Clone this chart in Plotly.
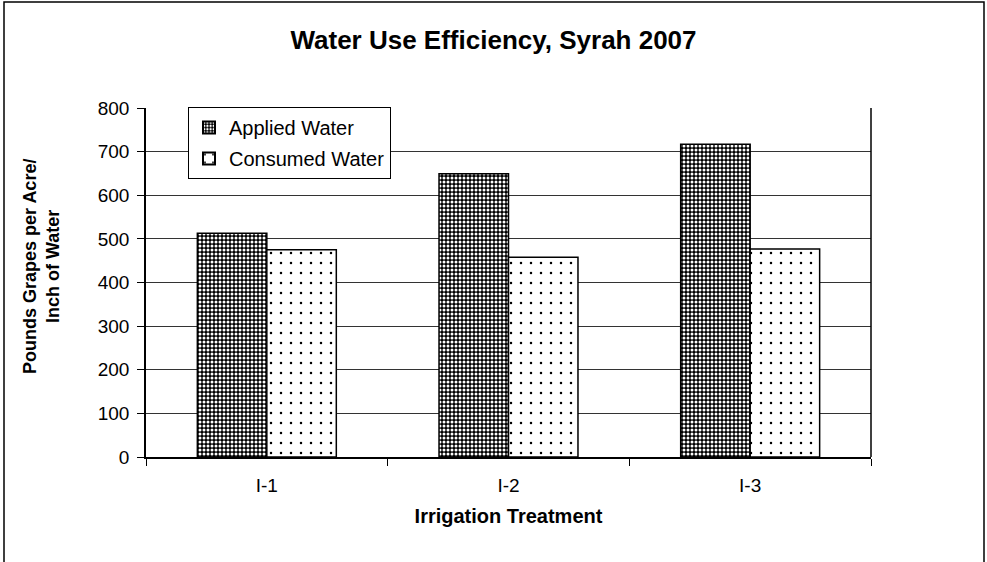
import plotly.graph_objects as go

categories = ["I-1", "I-2", "I-3"]
applied = [513, 649, 717]
consumed = [475, 458, 477]
series_names = ["Applied Water", "Consumed Water"]

W, H = 987, 562
L, R, T, B = 146, 116, 108, 105
pw, ph = W - L - R, H - T - B

fig = go.Figure()
fig.add_trace(go.Bar(
    x=categories, y=applied, name=series_names[0], legendgroup="a",
    marker=dict(color="white", line=dict(color="black", width=1.5),
                pattern=dict(shape=".", bgcolor="black", fgcolor="white",
                             size=4, solidity=0.45, fillmode="replace")),
))
fig.add_trace(go.Bar(
    x=categories, y=consumed, name=series_names[1], legendgroup="b",
    marker=dict(color="white", line=dict(color="black", width=1.5),
                pattern=dict(shape=".", bgcolor="white", fgcolor="black",
                             size=10, solidity=0.05, fillmode="replace")),
))

font = "Arial, Liberation Sans, sans-serif"
fig.update_layout(
    width=W, height=H,
    margin=dict(l=L, r=R, t=T, b=B, pad=0),
    paper_bgcolor="white", plot_bgcolor="white",
    barmode="group", bargap=0.425, bargroupgap=0,
    font=dict(family=font, size=19, color="black"),
    title=dict(text="<b>Water Use Efficiency, Syrah 2007</b>", x=0.5, xanchor="center",
               y=1 - 40 / H, yanchor="middle", font=dict(size=26)),
    showlegend=True,
    legend=dict(x=(188 - L) / pw, y=1 + (T - 107) / ph, xanchor="left", yanchor="top",
                bgcolor="white", bordercolor="black", borderwidth=1,
                font=dict(size=20), tracegroupgap=2, itemsizing="constant",
                itemwidth=30),
    xaxis=dict(showline=True, linecolor="black", linewidth=1.5, ticks="outside",
               tickson="boundaries", ticklen=7, tickcolor="black",
               ticklabelstandoff=10,
               title=dict(text="<b>Irrigation Treatment</b>", font=dict(size=20), standoff=14),
               mirror=False),
    yaxis=dict(range=[0, 800], dtick=100, showline=True, linecolor="black", linewidth=1.5,
               ticks="outside", ticklen=7, tickcolor="black", showgrid=True,
               ticklabelstandoff=4,
               gridcolor="#333333", gridwidth=1, zeroline=False),
)
# y-axis title as rotated text
fig.add_annotation(text="<b>Pounds Grapes per Acre/<br>Inch of Water</b>",
                   xref="paper", yref="paper", x=(41 - L) / pw, y=(H - B - 266) / ph,
                   xanchor="center", yanchor="middle", textangle=-90, showarrow=False,
                   font=dict(size=18))
# right border of plot area
fig.add_shape(type="line", xref="paper", yref="paper", x0=1, x1=1, y0=0, y1=1,
              line=dict(color="black", width=1.5))
# outer chart frame
fig.add_shape(type="rect", xref="paper", yref="paper",
              x0=(4 - L) / pw, x1=(W - 3 - L) / pw, y0=-(H + 5 - T - ph) / ph, y1=1 + (T - 2) / ph,
              line=dict(color="black", width=1.5), fillcolor="rgba(0,0,0,0)", layer="below")

fig.write_html("out.html", config={"displayModeBar": False},
               post_script="document.body.style.margin='0';document.body.style.overflow='hidden';")
